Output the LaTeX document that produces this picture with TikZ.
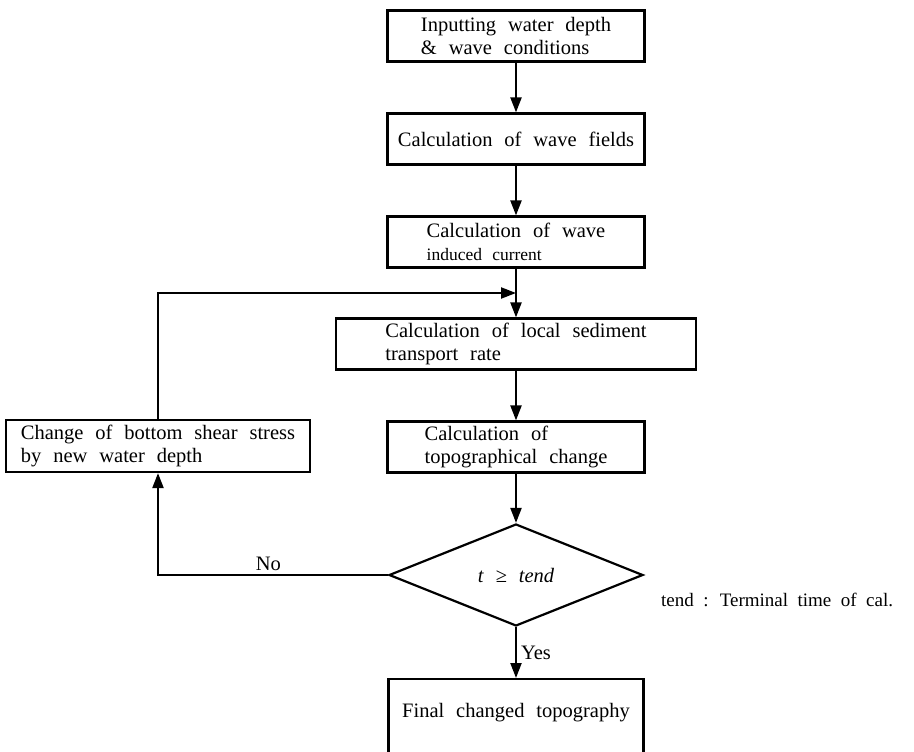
\documentclass[tikz,border=0pt]{standalone}
\usepackage{fontspec}
\setmainfont{Liberation Serif}
\usetikzlibrary{shapes.geometric,arrows.meta}
\newcommand\widesp{\spaceskip=0.58em plus 0.1em\relax}
\newcommand\notesp{\spaceskip=0.5em plus 0.1em\relax}
\begin{document}
\begin{tikzpicture}[x=1pt,y=-1pt,
  every node/.style={font=\fontsize{20.5}{23.5}\selectfont\widesp},
  box/.style={draw, line width=2.2pt, minimum width=257pt, minimum height=51pt, align=left, inner sep=0pt},
  arr/.style={line width=2.2pt, -{Triangle[length=15pt,width=11pt]}},
  lbl/.style={inner sep=1pt}]
\useasboundingbox (0,0) rectangle (914,752);
\node[box] (b1) at (516,36) {Inputting water depth\\\& wave conditions};
\node[box] (b2) at (516,139) {Calculation of wave fields};
\node[box] (b3) at (516,242) {Calculation of wave\\{\fontsize{17.5}{20}\selectfont\widesp induced current}};
\node[box, minimum width=360pt] (b4) at (516,344) {Calculation of local sediment\\transport rate};
\node[box] (b5) at (516,447) {Calculation of\\topographical change};
\node[box, minimum width=304pt, minimum height=52pt] (chg) at (158,446) {Change of bottom shear stress\\by new water depth};
\node[diamond, draw, line width=2.2pt, minimum width=254pt, minimum height=102pt, inner sep=0pt] (dia) at (516,575) {\textit{t} ≥ \textit{tend}};
\node[draw, line width=2.2pt, minimum width=255pt, minimum height=84pt, anchor=north, inner sep=0pt] (fin) at (516,678) {};
\node[lbl] (fintxt) at (516,713) {Final changed topography};
\node[lbl, anchor=west, font=\fontsize{19}{22}\selectfont\notesp] (note) at (660,600) {tend : Terminal time of cal.};
\coordinate (j) at (516,293);
\draw[arr] (b1) -- (b2);
\draw[arr] (b2) -- (b3);
\draw[arr] (b3) -- (b4);
\draw[arr] (b4) -- (b5);
\draw[arr] (b5) -- (dia);
\draw[arr] (chg.north) |- (j);
\draw[arr] (dia.west) -| node[lbl, pos=0.26, above=2pt] (no) {No} (chg.south);
\draw[arr] (dia.south) -- node[lbl, right=3pt] (yes) {Yes} (fin.north);
\end{tikzpicture}
\end{document}
